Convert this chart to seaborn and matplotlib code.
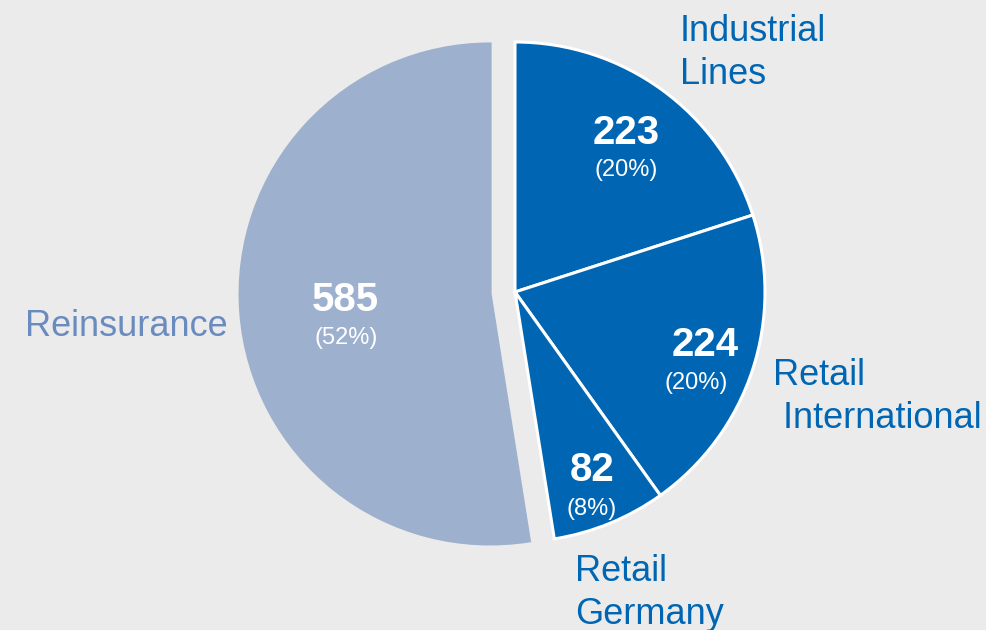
import matplotlib
matplotlib.use("Agg")
import matplotlib.pyplot as plt
import seaborn as sns

# data
segments = ["Industrial\nLines", "Retail\n International", "Retail\nGermany", "Reinsurance"]
values = [223, 224, 82, 585]
pct_labels = ["(20%)", "(20%)", "(8%)", "(52%)"]

sns.set_theme(style="white")
plt.rcParams["font.family"] = ["Liberation Sans", "DejaVu Sans"]

bg = "#EBEBEB"
blue = "#0066B3"
light = "#9DB0CE"
colors = [blue, blue, blue, light]
label_colors = [blue, blue, blue, "#6A8BBF"]

fig = plt.figure(figsize=(9.87, 6.3), dpi=100, facecolor=bg)
ax = fig.add_axes([0, 0, 1, 1])
ax.set_facecolor(bg)

wedges, _ = ax.pie(
    values,
    colors=colors,
    startangle=90,
    counterclock=False,
    explode=[0, 0, 0, 0.1],
    radius=1.0,
    wedgeprops=dict(edgecolor="white", linewidth=2.2),
)
wedges[3].set_edgecolor(light)

# 1 unit = 250 px, pie centre at (515, 292) px
ax.set_xlim(-515 / 250, (987 - 515) / 250)
ax.set_ylim(-(630 - 292) / 250, 292 / 250)
ax.set_aspect("equal")
ax.axis("off")


def px(x, y):
    return (x - 515) / 250, (292 - y) / 250


# value labels inside wedges
val_pos = [(626, 133), (705, 345), (592, 470), (345, 300)]
pct_pos = [(626, 170), (696, 383), (592, 509), (346, 338)]
for v, p, vp, pp in zip(values, pct_labels, val_pos, pct_pos):
    ax.text(*px(*vp), str(v), ha="center", va="center", color="white",
            fontsize=29, fontweight="bold")
    ax.text(*px(*pp), p, ha="center", va="center", color="white", fontsize=17)

# category labels
cat_pos = [(680, 53, "left"), (773, 397, "left"), (575, 593, "left"), (228, 327, "right")]
for name, (x, y, ha), c in zip(segments, cat_pos, label_colors):
    ax.text(*px(x, y), name, ha=ha, va="center", color=c, fontsize=26,
            linespacing=1.28)

fig.savefig("out.png", dpi=100, facecolor=bg)
